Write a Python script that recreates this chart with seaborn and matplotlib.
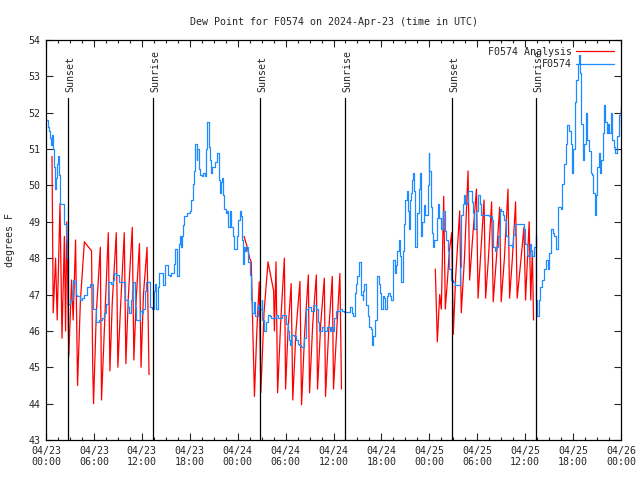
import matplotlib
matplotlib.use("Agg")
import matplotlib.pyplot as plt
import seaborn as sns
from matplotlib.ticker import MultipleLocator

# ==========================================================
# DATA (hours since 04/23 00:00 UTC)
# ==========================================================

blue_hours = [
    0.0, 0.2, 0.4, 0.55, 0.67, 0.8, 0.9, 1.05, 1.15, 1.25, 1.4, 1.55, 1.65, 1.75,
    2.05, 2.25, 2.45, 2.6, 2.7, 2.8, 3.0, 3.2, 3.35, 3.5, 3.7, 3.9, 4.25, 4.55,
    4.8, 5.15, 5.45, 5.85, 5.9, 6.2, 6.6, 7.0, 7.3, 7.5, 7.75, 8.1, 8.35, 8.5,
    8.8, 9.1, 9.5, 9.8, 9.9, 10.25, 10.45, 10.65, 10.8, 10.9, 11.1, 11.3, 11.6,
    11.8, 12.0, 12.2, 12.4, 12.5, 12.8, 13.0, 13.3, 13.5, 13.7, 13.8, 14.0, 14.2,
    14.6, 14.7, 14.9, 15.15, 15.3, 15.5, 15.7, 16.0, 16.2, 16.35, 16.45, 16.6,
    16.8, 16.9, 17.0, 17.1, 17.3, 17.6, 18.0, 18.2, 18.4, 18.5, 18.7, 18.85,
    18.95, 19.1, 19.3, 19.5, 19.7, 19.85, 20.0, 20.2, 20.35, 20.45, 20.55, 20.7,
    20.8, 20.95, 21.2, 21.4, 21.6, 21.7, 21.8, 21.9, 22.0, 22.2, 22.3, 22.5,
    22.7, 22.85, 23.0, 23.2, 23.4, 23.6, 23.85, 23.95, 24.1, 24.25, 24.4, 24.5,
    24.65, 24.75, 24.95, 25.1, 25.3, 25.5, 25.65, 25.8, 26.0, 26.2, 26.5, 26.7,
    27.0, 27.1, 27.3, 27.5, 27.75, 28.0, 28.2, 28.8, 29.0, 29.5, 29.6, 29.9,
    30.0, 30.3, 30.45, 30.55, 30.7, 31.0, 31.3, 31.5, 31.7, 31.9, 32.2, 32.3,
    32.55, 32.8, 33.2, 33.6, 33.8, 34.0, 34.2, 34.6, 34.8, 35.2, 35.5, 35.7,
    35.9, 36.0, 36.1, 36.3, 36.6, 36.85, 37.1, 37.3, 37.9, 38.1, 38.3, 38.5,
    38.65, 38.8, 39.0, 39.15, 39.25, 39.4, 39.5, 39.65, 39.75, 39.85, 40.0,
    40.1, 40.3, 40.5, 40.7, 40.85, 41.0, 41.2, 41.4, 41.5, 41.65, 41.8, 42.0,
    42.2, 42.35, 42.5, 42.65, 42.8, 43.1, 43.25, 43.4, 43.5, 43.65, 43.8, 44.0,
    44.2, 44.3, 44.5, 44.65, 44.8, 45.0, 45.2, 45.3, 45.45, 45.55, 45.7, 45.8,
    46.0, 46.1, 46.25, 46.5, 46.7, 46.8, 46.95, 47.1, 47.3, 47.5, 47.7, 47.8,
    47.9, 48.0, 48.15, 48.25, 48.35, 48.45, 48.6, 48.8, 48.9, 49.1, 49.25,
    49.4, 49.6, 49.75, 49.9, 50.1, 50.3, 50.5, 50.75, 51.0, 51.2, 51.7, 51.8,
    52.0, 52.2, 52.3, 52.5, 52.7, 52.8, 53.05, 53.3, 53.5, 53.6, 53.8, 53.9,
    54.1, 54.3, 54.5, 55.5, 55.8, 56.0, 56.2, 56.4, 56.6, 56.8, 57.0, 57.2,
    57.4, 57.6, 57.8, 58.3, 58.5, 58.7, 59.8, 59.9, 60.0, 60.2, 60.4, 60.6,
    60.75, 60.9, 61.1, 61.3, 61.4, 61.5, 61.7, 61.9, 62.15, 62.35, 62.6, 62.8,
    63.0, 63.2, 63.45, 63.6, 63.8, 64.05, 64.15, 64.5, 64.65, 64.9, 65.1, 65.3,
    65.5, 65.7, 65.9, 66.0, 66.2, 66.4, 66.6, 66.75, 66.9, 67.0, 67.2, 67.4,
    67.6, 67.8, 68.0, 68.2, 68.4, 68.5, 68.7, 68.85, 69.0, 69.2, 69.4, 69.5,
    69.7, 69.85, 70.0, 70.2, 70.4, 70.55, 70.7, 70.9, 71.1, 71.3, 71.5, 71.75,
    71.95, 72.0,
]

blue_vals = [
    51.8, 51.6, 51.5, 51.3, 51.1, 51.4, 51.0, 50.5, 49.9, 50.2, 50.6, 50.8, 50.3, 49.5,
    49.5, 48.95, 48.5, 48.0, 47.3, 46.75, 46.85, 47.0, 47.4, 47.35, 47.0, 46.95, 46.85, 46.9,
    47.0, 47.2, 47.3, 47.3, 46.6, 46.25, 46.3, 46.35, 46.5, 46.75, 47.35, 47.3, 47.4, 47.6,
    47.55, 47.35, 47.35, 47.35, 46.85, 46.65, 46.5, 46.85, 47.1, 47.35, 46.65, 46.3, 46.3,
    46.55, 46.5, 46.6, 47.1, 47.35, 47.35, 46.65, 46.6, 47.1, 47.3, 46.6, 47.2, 47.6,
    47.6, 47.25, 47.8, 47.8, 47.55, 47.5, 47.6, 47.85, 48.25, 47.75, 47.5, 48.4,
    48.6, 48.3, 48.6, 48.9, 49.15, 49.25, 49.3, 49.6, 50.05, 50.4, 51.15, 50.7,
    51.0, 50.45, 50.3, 50.25, 50.35, 50.25, 51.0, 51.75, 51.5, 51.05, 50.7, 50.35,
    50.5, 50.5, 50.65, 50.9, 50.9, 50.15, 49.8, 50.1, 50.2, 49.75, 49.35, 49.25,
    49.3, 48.85, 49.3, 48.85, 48.6, 48.25, 48.25, 48.6, 49.05, 49.3, 49.15, 48.5,
    47.85, 48.3, 48.2, 48.3, 47.9, 47.55, 46.85, 46.5, 46.8, 46.4, 46.7, 46.6,
    46.85, 46.3, 46.0, 46.25, 46.45, 46.4, 46.35, 46.45, 46.35, 46.35, 46.45, 46.45,
    46.2, 46.0, 45.75, 45.6, 45.9, 45.85, 45.75, 45.65, 45.6, 45.55, 45.55, 45.8,
    46.6, 46.65, 46.55, 46.7, 46.6, 46.25, 46.0, 46.1, 46.0, 46.1, 46.0, 46.1,
    46.0, 46.15, 46.35, 46.55, 46.55, 46.6, 46.55, 46.53, 46.53, 46.67, 46.5, 46.4,
    47.05, 47.3, 47.5, 47.7, 47.9, 47.6, 47.0, 46.85, 47.1, 47.3, 47.3,
    46.7, 46.4, 46.1, 46.05, 45.6, 45.85, 46.3, 46.8, 47.5, 47.3, 47.05, 46.6,
    46.95, 46.9, 46.6, 46.95, 47.05, 46.95, 46.85, 47.6, 47.95, 47.6, 47.8, 48.2,
    48.5, 48.05, 47.35, 48.2, 48.95, 49.6, 49.85, 49.3, 48.8, 49.6, 49.8, 50.15,
    50.35, 49.85, 48.3, 49.25, 49.9, 50.35, 48.6, 49.0, 49.45, 49.2, 49.2, 50.0,
    50.9, 50.4, 49.9, 49.4, 48.7, 48.3, 48.5, 48.5, 49.1, 49.5, 49.1,
    48.8, 48.8, 49.3, 48.75, 48.5, 48.2, 47.7, 47.4, 47.35, 47.25, 47.25, 47.75,
    49.2, 49.5, 49.75, 49.5, 49.55, 49.85, 49.85, 49.55, 49.25, 48.8, 48.85, 49.3,
    49.75, 49.5, 49.2, 49.15, 49.05, 48.3, 48.2, 48.3, 48.6, 49.35, 49.3, 49.2,
    49.05, 48.6, 48.35, 48.3, 48.65, 48.95, 48.95, 48.8, 48.4, 48.1, 48.05, 48.4,
    48.2, 48.05, 48.3, 48.65, 46.85, 46.4, 46.85, 47.2, 47.4, 47.7, 47.95, 47.7,
    48.15, 48.8, 48.7, 48.6, 48.25, 48.25, 49.4, 49.35, 50.05, 50.6, 51.15, 51.65,
    51.5, 51.15, 50.35, 51.0, 52.3, 52.9, 53.35, 53.6, 53.1, 51.7, 50.7, 51.15,
    52.0, 51.25, 50.95, 50.35, 50.3, 49.8, 49.2, 49.75, 50.5, 50.9, 50.35, 50.7,
    51.45, 52.2, 51.75, 51.45, 51.7, 51.45, 52.0, 51.25, 51.05, 50.9, 51.35, 51.95,
    52.15, 51.7,
]

# analysis series, three night-time windows
red_hours_1 = [
    0.75, 0.9, 1.2, 1.4, 1.75, 2.0, 2.3, 2.45, 2.6, 2.85, 3.2, 3.4, 3.7, 3.95,
    4.3, 4.8, 5.7, 5.85, 5.95, 6.3, 6.8, 6.95, 7.3, 7.8, 8.0, 8.3, 8.8, 9.0,
    9.3, 9.8, 10.0, 10.3, 10.8, 11.0, 11.3, 11.7, 11.9, 12.2, 12.65, 12.9,
]
red_vals_1 = [
    50.8, 46.5, 48.0, 46.3, 49.5, 45.8, 48.6, 46.0, 49.0, 45.3, 47.4, 46.3, 48.5, 44.5,
    46.8, 48.45, 48.2, 45.0, 44.0, 46.5, 48.3, 44.1, 46.0, 48.7, 44.9, 46.8, 48.7, 45.0,
    46.5, 48.7, 45.1, 46.9, 48.85, 45.2, 46.9, 48.4, 45.0, 47.0, 48.3, 44.8,
]

red_hours_2 = [
    24.8, 25.2, 25.5, 25.7, 25.9, 26.1, 26.4, 26.7, 26.9, 27.3, 27.8, 28.5,
    28.6, 28.8, 29.0, 29.4, 29.85, 30.0, 30.3, 30.7, 30.9, 31.3, 31.8, 32.0,
    32.4, 32.85, 33.0, 33.4, 33.85, 34.0, 34.4, 34.85, 35.0, 35.4, 35.85, 36.0,
    36.4, 36.8, 37.0,
]
red_vals_2 = [
    48.6, 48.3, 48.0, 47.9, 46.0, 44.2, 46.0, 47.35, 44.3, 46.5, 47.9, 47.1,
    46.0, 47.9, 44.3, 46.3, 48.0, 44.4, 46.0, 47.3, 44.1, 46.0, 47.36, 43.97,
    46.0, 47.54, 44.3, 46.2, 47.54, 44.4, 46.2, 47.45, 44.2, 46.0, 47.5, 44.4,
    46.0, 47.58, 44.4,
]

red_hours_3 = [
    48.75, 49.0, 49.3, 49.5, 49.8, 50.0, 50.3, 50.5, 50.8, 51.0, 51.3, 51.8,
    52.0, 52.4, 52.85, 53.05, 53.4, 53.9, 54.1, 54.4, 54.85, 55.05, 55.4, 55.8,
    56.0, 56.4, 56.8, 57.0, 57.4, 57.85, 58.05, 58.4, 58.8, 59.0, 59.4, 59.85,
    60.05, 60.5, 60.7, 60.9, 61.05,
]
red_vals_3 = [
    47.7, 45.7, 47.0, 46.6, 49.7, 46.6, 47.5, 48.2, 48.7, 45.9, 47.5, 49.3,
    46.5, 48.0, 50.4, 47.4, 48.5, 49.9, 46.9, 48.0, 49.6, 46.9, 48.0, 49.55,
    46.8, 48.0, 49.4, 46.8, 48.0, 49.9, 46.9, 48.0, 49.55, 46.9, 47.8, 48.85,
    46.85, 49.0, 46.85, 48.2, 46.3,
]

sun_hours = [2.8, 13.44, 26.84, 37.5, 50.88, 61.4]
sun_labels = ["Sunset", "Sunrise", "Sunset", "Sunrise", "Sunset", "Sunrise"]

tick_hours = [0, 6, 12, 18, 24, 30, 36, 42, 48, 54, 60, 66, 72]
tick_labels = [
    "04/23\n00:00", "04/23\n06:00", "04/23\n12:00", "04/23\n18:00",
    "04/24\n00:00", "04/24\n06:00", "04/24\n12:00", "04/24\n18:00",
    "04/25\n00:00", "04/25\n06:00", "04/25\n12:00", "04/25\n18:00",
    "04/26\n00:00",
]

# ==========================================================
# PLOT
# ==========================================================

sns.set_theme(style="ticks")
plt.rcParams["font.family"] = ["DejaVu Sans Mono"]
plt.rcParams["font.size"] = 7.2

fig = plt.figure(figsize=(6.4, 4.8), dpi=100)
ax = fig.add_axes([0.0719, 0.0833, 0.8984, 0.8334])

red_windows = [
    (red_hours_1, red_vals_1),
    (red_hours_2, red_vals_2),
    (red_hours_3, red_vals_3),
]
for i, (hrs, vals) in enumerate(red_windows):
    sns.lineplot(
        x=hrs,
        y=vals,
        color="#FF0000",
        linewidth=0.9,
        estimator=None,
        label="F0574 Analysis" if i == 0 else None,
        legend=(i == 0),
        ax=ax
    )

sns.lineplot(
    x=blue_hours,
    y=blue_vals,
    color="#1E8CFF",
    linewidth=0.9,
    drawstyle="steps-post",
    estimator=None,
    label="F0574",
    ax=ax
)

for h, lab in zip(sun_hours, sun_labels):
    ax.axvline(h, ymin=0, ymax=0.855, color="black", linewidth=0.9)
    ax.text(
        h + 0.25, 0.87, lab,
        transform=ax.get_xaxis_transform(),
        rotation=90,
        ha="center",
        va="bottom",
        fontsize=7.2
    )

ax.set_xlim(0, 72)
ax.set_ylim(43, 54)
ax.set_xticks(tick_hours)
ax.set_xticklabels(tick_labels)
ax.xaxis.set_minor_locator(MultipleLocator(1.5))
ax.yaxis.set_major_locator(MultipleLocator(1))

ax.tick_params(which="major", direction="in", top=True, right=True,
               length=5, width=0.8, pad=4, labelsize=7.2)
ax.tick_params(which="minor", direction="in", top=True, right=True,
               length=2.5, width=0.8)
for s in ax.spines.values():
    s.set_color("black")
    s.set_linewidth(0.9)

ax.set_xlabel("")
ax.set_ylabel("degrees F", fontsize=7.2, labelpad=10)
ax.set_title("Dew Point for F0574 on 2024-Apr-23 (time in UTC)",
             fontsize=7.2, pad=11)

ax.legend(
    loc="upper right",
    frameon=False,
    markerfirst=False,
    handlelength=3.8,
    fontsize=7.2,
    borderaxespad=0.3,
    labelspacing=0.25,
    handletextpad=0.4
)

fig.savefig("out.png", dpi=100)
plt.close(fig)
